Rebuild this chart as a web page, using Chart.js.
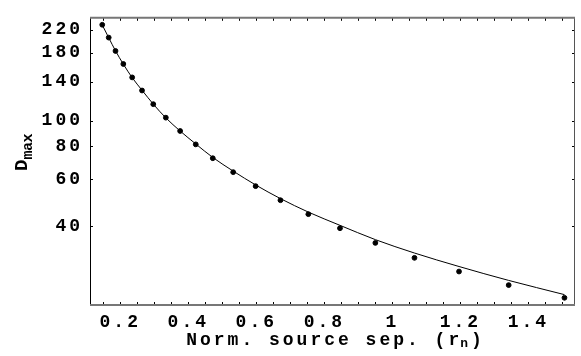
<!DOCTYPE html>
<html>
<head>
<meta charset="utf-8">
<script src="https://cdn.jsdelivr.net/npm/chart.js@4.4.1/dist/chart.umd.min.js"></script>
<style>
  html, body { margin: 0; padding: 0; background: #fff; }
</style>
</head>
<body>
<canvas id="chart" width="581" height="356"></canvas>
<script>
/* ---------------------------------
   DATA
--------------------------------- */
const sepX = [0.147, 0.166, 0.186, 0.209, 0.235, 0.264, 0.297, 0.334, 0.376, 0.422, 0.472,
              0.532, 0.598, 0.671, 0.753, 0.846, 0.950, 1.065, 1.196, 1.342, 1.506];
const dmaxPoints = [229.3, 205.2, 182.7, 163.2, 145.3, 129.7, 115.2, 102.5, 91.3, 81.3, 72.1,
                    63.9, 56.6, 50.1, 44.4, 39.3, 34.6, 30.4, 27.0, 24.0, 21.5];
const dmaxFit = [229.0, 205.0, 183.0, 163.0, 145.0, 130.0, 115.3, 102.3, 91.3, 81.6, 72.6,
                 64.5, 57.2, 50.8, 45.2, 40.3, 35.6, 31.7, 28.2, 25.0, 22.1];
const xTickLabels = [0.2, 0.4, 0.6, 0.8, 1, 1.2, 1.4];
const yTickLabels = [40, 60, 80, 100, 140, 180, 220];

const FONT = "'Liberation Mono', 'Courier New', monospace";
const SPACING = "3px";

/* ---------------------------------
   PLUGINS
--------------------------------- */
const spacing = {
  id: "spacing",
  beforeLayout(chart) { chart.ctx.letterSpacing = SPACING; },
  beforeDraw(chart) { chart.ctx.letterSpacing = SPACING; }
};

const frame = {
  id: "frame",
  afterDraw(chart) {
    const { ctx, chartArea: a, scales: { x, y } } = chart;
    ctx.save();
    ctx.strokeStyle = "#000";
    ctx.lineWidth = 1;

    // small inward ticks, top and bottom
    for (let i = 3; i <= 30; i++) {
      const px = Math.round(x.getPixelForValue(i * 0.05)) + 0.5;
      ctx.beginPath();
      ctx.moveTo(px, a.bottom); ctx.lineTo(px, a.bottom - 3);
      ctx.moveTo(px, a.top); ctx.lineTo(px, a.top + 3);
      ctx.stroke();
    }
    // inward ticks, left and right
    yTickLabels.forEach((v) => {
      const py = Math.round(y.getPixelForValue(v)) + 0.5;
      ctx.beginPath();
      ctx.moveTo(a.left, py); ctx.lineTo(a.left + 3, py);
      ctx.moveTo(a.right, py); ctx.lineTo(a.right - 3, py);
      ctx.stroke();
    });

    // frame
    ctx.strokeStyle = "#000";
    ctx.beginPath();
    ctx.moveTo(a.left + 0.5, a.top); ctx.lineTo(a.left + 0.5, a.bottom);
    ctx.stroke();
    ctx.strokeStyle = "#555";
    ctx.beginPath();
    ctx.moveTo(a.right - 0.5, a.top); ctx.lineTo(a.right - 0.5, a.bottom);
    ctx.stroke();
    ctx.strokeStyle = "#777";
    ctx.lineWidth = 2;
    ctx.beginPath();
    ctx.moveTo(a.left, a.top); ctx.lineTo(a.right, a.top);
    ctx.moveTo(a.left, a.bottom); ctx.lineTo(a.right, a.bottom);
    ctx.stroke();

    // axis titles with subscripts
    ctx.fillStyle = "#000";
    ctx.textBaseline = "alphabetic";
    ctx.textAlign = "left";
    const big = "bold 18px " + FONT;
    const small = "bold 13px " + FONT;

    const xMain = "Norm. source sep. (r";
    ctx.font = big; ctx.letterSpacing = SPACING;
    const w1 = ctx.measureText(xMain).width;
    const w3 = ctx.measureText(")").width;
    ctx.font = small; ctx.letterSpacing = "1px";
    const w2 = ctx.measureText("n").width;
    const tx = (a.left + a.right) / 2 - (w1 + w2 + w3) / 2 + 3;
    const ty = 345;
    ctx.font = big; ctx.letterSpacing = SPACING;
    ctx.fillText(xMain, tx, ty);
    ctx.font = small; ctx.letterSpacing = "1px";
    ctx.fillText("n", tx + w1 - 2, ty + 2);
    ctx.font = big; ctx.letterSpacing = SPACING;
    ctx.fillText(")", tx + w1 + w2, ty);

    ctx.translate(27, 171);
    ctx.rotate(-Math.PI / 2);
    ctx.font = "bold 19px " + FONT;
    ctx.letterSpacing = "0px";
    ctx.fillText("D", 0, 0);
    const wd = ctx.measureText("D").width;
    ctx.font = "bold 15px " + FONT;
    ctx.letterSpacing = "-0.5px";
    ctx.fillText("max", wd, 5);
    ctx.restore();
  }
};

/* ---------------------------------
   RENDERING
--------------------------------- */
const ctx = document.getElementById("chart").getContext("2d");

new Chart(ctx, {
  type: "scatter",
  data: {
    datasets: [
      {
        label: "fit",
        type: "line",
        data: sepX.map((v, i) => ({ x: v, y: dmaxFit[i] })),
        borderColor: "#000",
        borderWidth: 1,
        pointRadius: 0,
        cubicInterpolationMode: "monotone",
        fill: false
      },
      {
        label: "Dmax",
        data: sepX.map((v, i) => ({ x: v, y: dmaxPoints[i] })),
        backgroundColor: "#000",
        borderColor: "#000",
        pointRadius: 2.4,
        pointHoverRadius: 2.4
      }
    ]
  },
  options: {
    responsive: false,
    devicePixelRatio: 1,
    animation: false,
    layout: { padding: { top: 5, right: 6, left: 0, bottom: 0 } },
    plugins: {
      legend: { display: false },
      tooltip: { enabled: false },
      title: { display: false }
    },
    scales: {
      x: {
        type: "linear",
        min: 0.111,
        max: 1.537,
        afterFit: (s) => { s.height = 51; },
        afterBuildTicks: (s) => { s.ticks = xTickLabels.map((v) => ({ value: v })); },
        grid: { display: false, drawTicks: false },
        border: { display: false },
        ticks: {
          color: "#000",
          padding: 7,
          maxRotation: 0,
          autoSkip: false,
          font: { family: FONT, size: 18, weight: "bold" },
          callback: (v) => String(v)
        }
      },
      y: {
        type: "logarithmic",
        min: 20.2,
        max: 243.6,
        afterFit: (s) => { s.width = 90; },
        afterBuildTicks: (s) => { s.ticks = yTickLabels.map((v) => ({ value: v })); },
        grid: { display: false, drawTicks: false },
        border: { display: false },
        ticks: {
          color: "#000",
          padding: 7,
          autoSkip: false,
          font: { family: FONT, size: 18, weight: "bold" },
          callback: (v) => String(v)
        }
      }
    }
  },
  plugins: [spacing, frame]
});
</script>
</body>
</html>
